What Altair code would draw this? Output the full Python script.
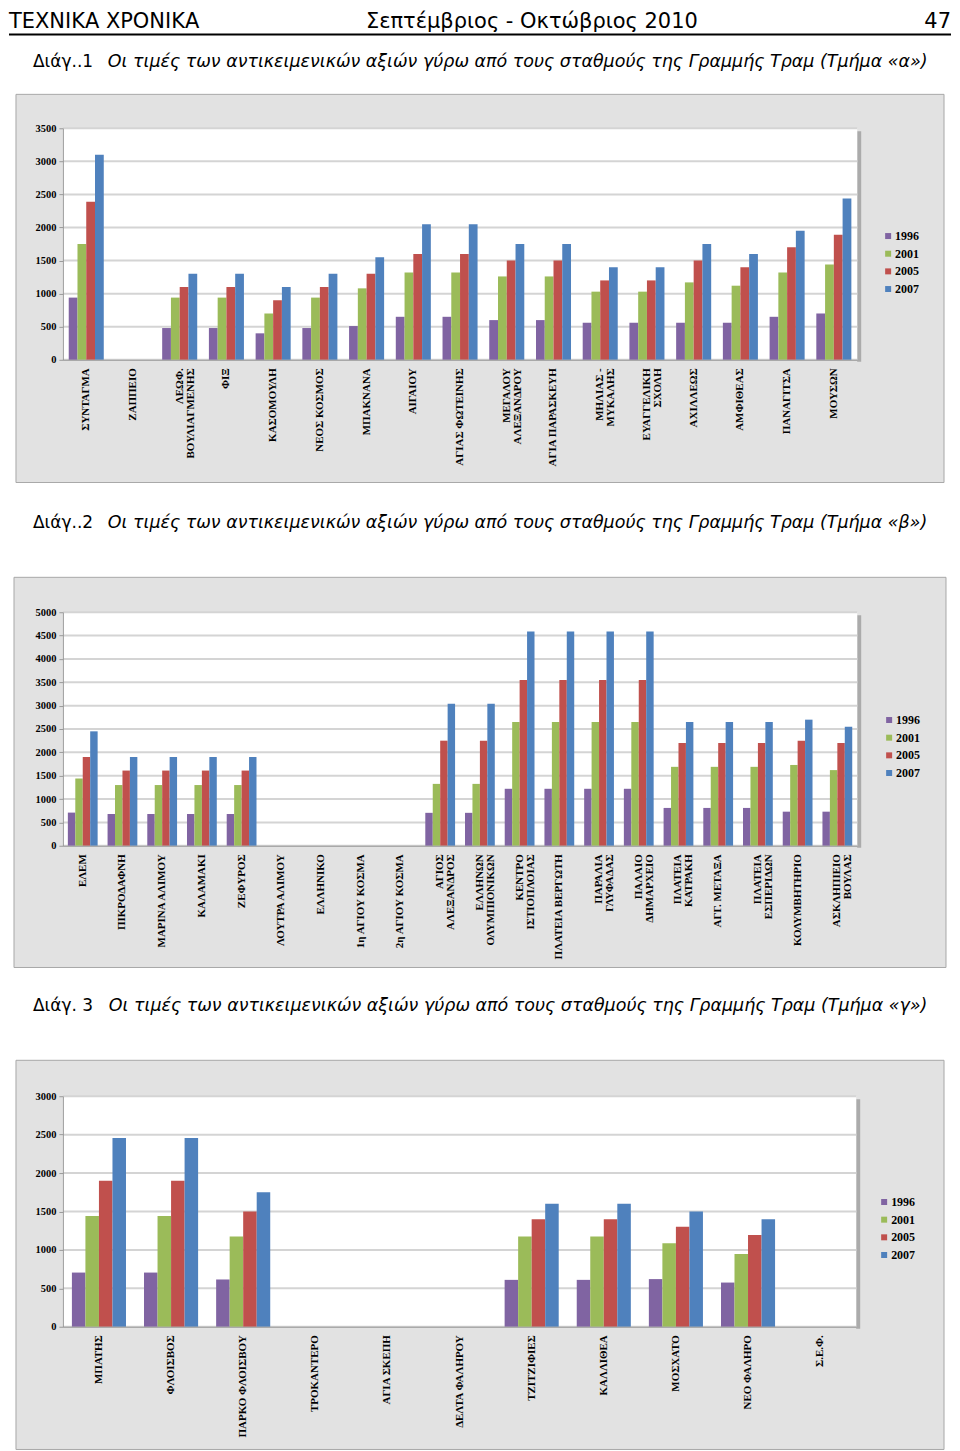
import altair as alt
import pandas as pd

years = ["1996", "2001", "2005", "2007"]
year_colors = ["#8064A2", "#9BBB59", "#C0504D", "#4F81BD"]

# ---- Chart 1 (Τμήμα «α») ----
cats1 = ["ΣΥΝΤΑΓΜΑ", "ΖΑΠΠΕΙΟ", "ΛΕΩΦ.\nΒΟΥΛΙΑΓΜΕΝΗΣ", "ΦΙΞ", "ΚΑΣΟΜΟΥΛΗ", "ΝΕΟΣ ΚΟΣΜΟΣ",
         "ΜΠΑΚΝΑΝΑ", "ΑΙΓΑΙΟΥ", "ΑΓΙΑΣ ΦΩΤΕΙΝΗΣ", "ΜΕΓΑΛΟΥ\nΑΛΕΞΑΝΔΡΟΥ", "ΑΓΙΑ ΠΑΡΑΣΚΕΥΗ",
         "ΜΗΛΙΑΣ -\nΜΥΚΑΛΗΣ", "ΕΥΑΓΓΕΛΙΚΗ\nΣΧΟΛΗ", "ΑΧΙΛΛΕΩΣ", "ΑΜΦΙΘΕΑΣ", "ΠΑΝΑΓΙΤΣΑ", "ΜΟΥΣΩΝ"]
c1_1996 = [940, None, 480, 480, 400, 480, 510, 650, 650, 600, 600, 560, 560, 560, 560, 650, 700]
c1_2001 = [1750, None, 940, 940, 700, 940, 1080, 1320, 1320, 1260, 1260, 1030, 1030, 1170, 1120, 1320, 1440]
c1_2005 = [2390, None, 1100, 1100, 900, 1100, 1300, 1600, 1600, 1500, 1500, 1200, 1200, 1500, 1400, 1700, 1890]
c1_2007 = [3100, None, 1300, 1300, 1100, 1300, 1550, 2050, 2050, 1750, 1750, 1400, 1400, 1750, 1600, 1950, 2440]
ticks1 = [0, 500, 1000, 1500, 2000, 2500, 3000, 3500]

# ---- Chart 2 (Τμήμα «β») ----
cats2 = ["ΕΛΕΜ", "ΠΙΚΡΟΔΑΦΝΗ", "ΜΑΡΙΝΑ ΑΛΙΜΟΥ", "ΚΑΛΑΜΑΚΙ", "ΖΕΦΥΡΟΣ", "ΛΟΥΤΡΑ ΑΛΙΜΟΥ",
         "ΕΛΛΗΝΙΚΟ", "1η ΑΓΙΟΥ ΚΟΣΜΑ", "2η ΑΓΙΟΥ ΚΟΣΜΑ", "ΑΓΙΟΣ\nΑΛΕΞΑΝΔΡΟΣ",
         "ΕΛΛΗΝΩΝ\nΟΛΥΜΠΙΟΝΙΚΩΝ", "ΚΕΝΤΡΟ\nΙΣΤΙΟΠΛΟΙΑΣ", "ΠΛΑΤΕΙΑ ΒΕΡΓΩΤΗ", "ΠΑΡΑΛΙΑ\nΓΛΥΦΑΔΑΣ",
         "ΠΑΛΑΙΟ\nΔΗΜΑΡΧΕΙΟ", "ΠΛΑΤΕΙΑ\nΚΑΤΡΑΚΗ", "ΑΓΓ. ΜΕΤΑΞΑ", "ΠΛΑΤΕΙΑ\nΕΣΠΕΡΙΔΩΝ",
         "ΚΟΛΥΜΒΗΤΗΡΙΟ", "ΑΣΚΛΗΠΙΕΙΟ\nΒΟΥΛΑΣ"]
c2_1996 = [710, 680, 680, 680, 680, None, None, None, None, 705, 705, 1220, 1220, 1220, 1220, 810, 810, 810, 730, 730]
c2_2001 = [1440, 1300, 1300, 1300, 1300, None, None, None, None, 1325, 1325, 2650, 2650, 2650, 2650, 1690, 1690, 1690, 1730, 1620]
c2_2005 = [1900, 1610, 1610, 1610, 1610, None, None, None, None, 2250, 2250, 3550, 3550, 3550, 3550, 2200, 2200, 2200, 2250, 2200]
c2_2007 = [2450, 1900, 1900, 1900, 1900, None, None, None, None, 3040, 3040, 4590, 4590, 4590, 4590, 2650, 2650, 2650, 2700, 2550]
ticks2 = [0, 500, 1000, 1500, 2000, 2500, 3000, 3500, 4000, 4500, 5000]

# ---- Chart 3 (Τμήμα «γ») ----
cats3 = ["ΜΠΑΤΗΣ", "ΦΛΟΙΣΒΟΣ", "ΠΑΡΚΟ ΦΛΟΙΣΒΟΥ", "ΤΡΟΚΑΝΤΕΡΟ", "ΑΓΙΑ ΣΚΕΠΗ", "ΔΕΛΤΑ ΦΑΛΗΡΟΥ",
         "ΤΖΙΤΖΙΦΙΕΣ", "ΚΑΛΛΙΘΕΑ", "ΜΟΣΧΑΤΟ", "ΝΕΟ ΦΑΛΗΡΟ", "Σ.Ε.Φ."]
c3_1996 = [705, 705, 615, None, None, None, 610, 610, 620, 575, None]
c3_2001 = [1440, 1440, 1175, None, None, None, 1175, 1175, 1085, 945, None]
c3_2005 = [1900, 1900, 1500, None, None, None, 1400, 1400, 1300, 1195, None]
c3_2007 = [2455, 2455, 1750, None, None, None, 1600, 1600, 1500, 1400, None]
ticks3 = [0, 500, 1000, 1500, 2000, 2500, 3000]

header_left = "ΤΕΧΝΙΚΑ ΧΡΟΝΙΚΑ"
header_mid = "Σεπτέμβριος - Οκτώβριος 2010"
header_right = "47"
cap_nums = ["Διάγ..1", "Διάγ..2", "Διάγ. 3"]
cap_texts = [
    "Οι τιμές των αντικειμενικών αξιών γύρω από τους σταθμούς της Γραμμής Τραμ (Τμήμα «α»)",
    "Οι τιμές των αντικειμενικών αξιών γύρω από τους σταθμούς της Γραμμής Τραμ (Τμήμα «β»)",
    "Οι τιμές των αντικειμενικών αξιών γύρω από τους σταθμούς της Γραμμής Τραμ (Τμήμα «γ»)",
]

SERIF = "Liberation Serif"
SANS = "DejaVu Sans"
ONE = pd.DataFrame({"k": [0]})


def long_df(cats, series):
    rows = []
    for yr, vals in zip(years, series):
        for c, v in zip(cats, vals):
            if v is not None:
                rows.append({"station": c, "year": yr, "value": v})
    return pd.DataFrame(rows)


def rect(x1, x2, y1, y2, **kw):
    return alt.Chart(ONE).mark_rect(**kw).encode(
        x=alt.value(x1), x2=alt.value(x2), y=alt.value(y1), y2=alt.value(y2))


def text(s, x, y, **kw):
    return alt.Chart(ONE).mark_text(**kw).encode(
        x=alt.value(x), y=alt.value(y), text=alt.value(s))


def panel(cats, series, ticks, W, H, box, frame_top, frame_bottom, cap_i, cap_y, cap_x2, leg_xy, extra=None):
    df = long_df(cats, series)
    grid_df = pd.DataFrame({"value": ticks})
    yscale = alt.Scale(domain=[ticks[0], ticks[-1]], nice=False, zero=True)
    yaxis = alt.Axis(values=ticks, grid=False, format="d", labelFont=SERIF,
                     labelFontWeight="bold", labelFontSize=10.5, labelColor="black",
                     domainColor="#9a9a9a", tickColor="#9a9a9a", tickSize=4,
                     labelPadding=3, zindex=1)
    bx1, bx2, by1, by2 = box

    bars = alt.Chart(df).mark_bar().encode(
        x=alt.X("station:N", sort=cats, title=None,
                scale=alt.Scale(domain=cats, paddingInner=0.25, paddingOuter=0.125),
                axis=alt.Axis(labelAngle=270, labelFont=SERIF, labelFontWeight="bold",
                              labelFontSize=11, labelColor="black", labelPadding=8,
                              ticks=False, domainColor="#9a9a9a", labelOverlap=False,
                              labelLimit=300, labelLineHeight=11,
                              labelExpr="split(datum.label, '\\n')", zindex=1)),
        xOffset=alt.XOffset("year:N", sort=years,
                            scale=alt.Scale(domain=years, paddingInner=0, paddingOuter=0)),
        y=alt.Y("value:Q", scale=yscale, title=None, axis=yaxis),
        color=alt.Color("year:N", sort=years,
                        scale=alt.Scale(domain=years, range=year_colors),
                        legend=alt.Legend(orient="none", legendX=leg_xy[0], legendY=leg_xy[1],
                                          title=None, symbolType="square", symbolSize=36,
                                          symbolStrokeWidth=0, labelFont=SERIF,
                                          labelFontWeight="bold", labelFontSize=12,
                                          labelColor="black", rowPadding=5.7, labelOffset=1,
                                          padding=0)),
    )

    grid = alt.Chart(grid_df).mark_rule(color="#d4d4d4", strokeWidth=2).encode(
        y=alt.Y("value:Q", scale=yscale, title=None, axis=yaxis))

    layers = [
        rect(-54, 890, frame_top, frame_bottom, fill="white"),
        rect(bx1, bx2, by1, by2, fill="#e2e2e2", stroke="#a8a8a8", strokeWidth=1),
        rect(W, W + 4, 3, H + 2, fill="#ababab"),
        rect(0, W, 0, H, fill="white"),
        grid,
        bars,
        text(cap_nums[cap_i], -30, cap_y, font=SANS, fontSize=17, align="left",
             baseline="alphabetic", color="black"),
        text(cap_texts[cap_i], cap_x2, cap_y, font=SANS, fontSize=17.5, fontStyle="italic",
             align="left", baseline="alphabetic", color="black"),
    ]
    if extra:
        layers += extra
    return alt.layer(*layers).properties(width=W, height=H)


header = [
    text(header_left, -54, -117, font=SANS, fontSize=21, align="left", baseline="top", color="black"),
    text(header_mid, 470, -117, font=SANS, fontSize=21, align="center", baseline="top", color="black"),
    text(header_right, 890, -117, font=SANS, fontSize=21, align="right", baseline="top", color="black"),
    alt.Chart(ONE).mark_rule(color="black", strokeWidth=2).encode(
        x=alt.value(-54), x2=alt.value(890), y=alt.value(-94)),
]

p1 = panel(cats1, [c1_1996, c1_2001, c1_2005, c1_2007], ticks1, 796, 232,
           (-47, 883, -34, 355), -119, 355, 0, -61, 45, (821, 102), header)
p2 = panel(cats2, [c2_1996, c2_2001, c2_2005, c2_2007], ticks2, 796, 234,
           (-49, 885, -35, 356), -129, 356, 1, -84, 45, (822, 102))
p3 = panel(cats3, [c3_1996, c3_2001, c3_2005, c3_2007], ticks3, 795, 231,
           (-47, 883, -36, 354), -128, 354, 2, -85, 46, (817, 100))

chart = alt.vconcat(p1, p2, p3, spacing=0).resolve_scale(
    x="independent", y="independent", color="independent", xOffset="independent"
).resolve_legend(color="independent").properties(padding=0).configure_view(stroke=None)

chart.save("out.html", embed_options={"renderer": "svg", "actions": False})
